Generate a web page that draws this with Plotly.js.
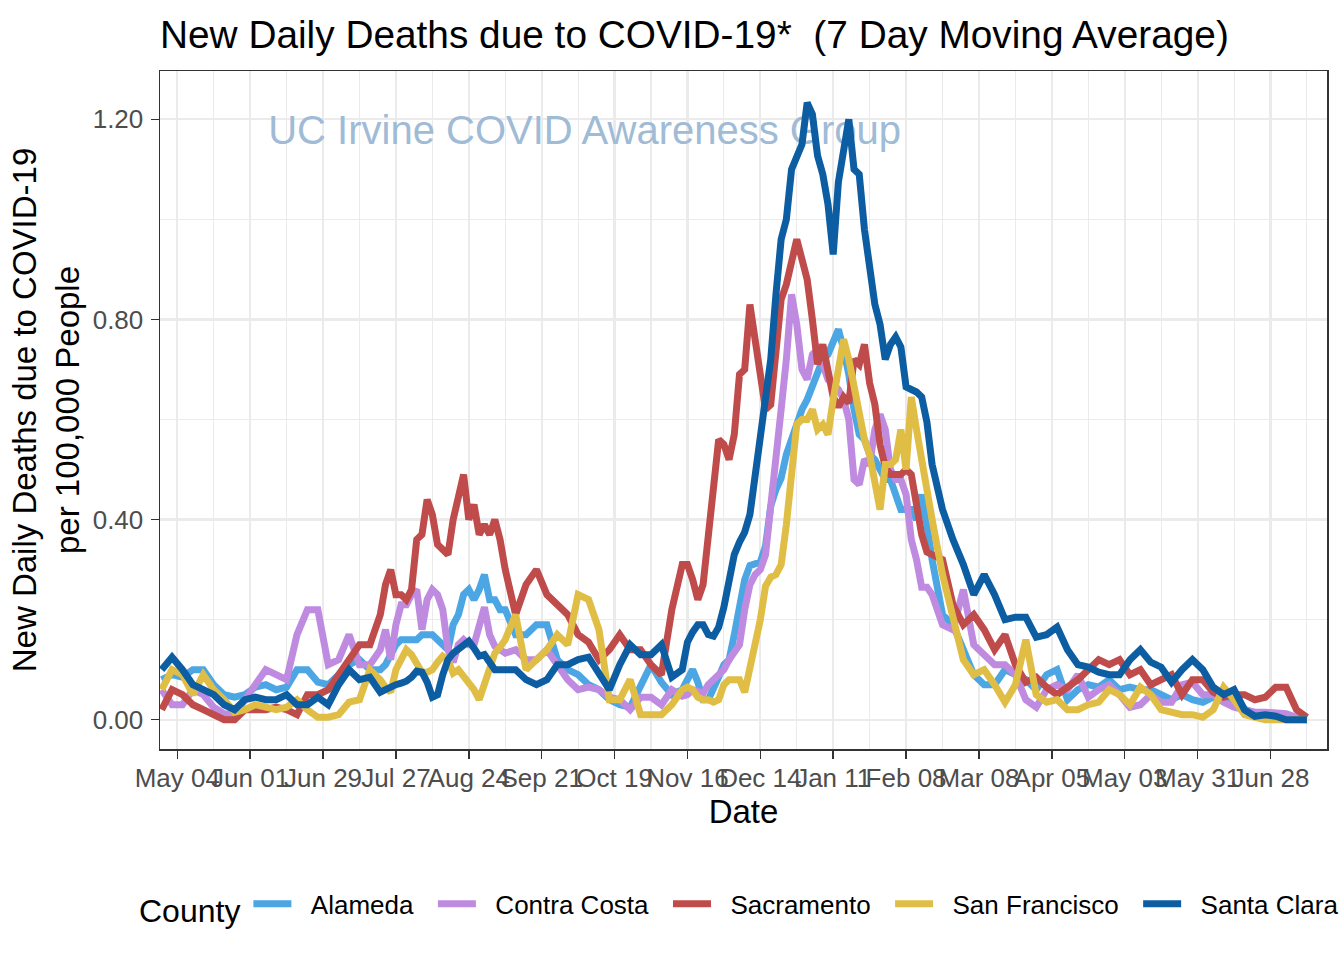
<!DOCTYPE html>
<html>
<head>
<meta charset="utf-8">
<script src="https://cdn.plot.ly/plotly-3.0.1.min.js"></script>
<style>
html, body { margin: 0; padding: 0; background: #ffffff; }
#chart { width: 1344px; height: 960px; }
</style>
</head>
<body>
<div id="chart"></div>
<script>
// ---- Sampling grid: [first date, last date, step in days] (denser where the curves move fast) ----
const gridSegments = [
  ['2020-04-28', '2020-07-21', 4],
  ['2020-07-23', '2020-09-07', 2],
  ['2020-09-11', '2020-11-14', 4],
  ['2020-11-16', '2021-02-18', 2],
  ['2021-02-22', '2021-07-12', 4]
];

const counties = ['Alameda', 'Contra Costa', 'Sacramento', 'San Francisco', 'Santa Clara'];
const countyColors = ['#4BA6E3', '#BF8BE0', '#BF4B4B', '#E0BE46', '#0C5DA2'];

// New daily deaths per 100,000 people (7-day moving average), one value per grid date
const alameda = [
  0.08, 0.09, 0.085, 0.10, 0.10, 0.07, 0.05, 0.045, 0.05, 0.065, 0.07, 0.06, 0.065, 0.10, 0.10, 0.075, 0.07, 0.09, 0.11, 0.12, 0.10, 0.10,
  0.11, 0.13, 0.15, 0.16, 0.16, 0.16, 0.16, 0.17, 0.17, 0.17, 0.16, 0.15, 0.14, 0.19, 0.21, 0.25, 0.26, 0.24, 0.26, 0.29, 0.24, 0.24, 0.22, 0.22,
  0.17, 0.17, 0.19, 0.19, 0.12, 0.10, 0.09, 0.07, 0.06, 0.04, 0.03, 0.025, 0.07, 0.11, 0.075, 0.05, 0.06,
  0.08, 0.10, 0.075, 0.04, 0.04, 0.06, 0.085, 0.11, 0.12, 0.17, 0.23, 0.28, 0.308, 0.31, 0.315, 0.347, 0.427, 0.46, 0.483, 0.53, 0.56, 0.60, 0.62, 0.64,
  0.67, 0.70, 0.72, 0.73, 0.76, 0.78, 0.74, 0.69, 0.62, 0.57, 0.56, 0.53, 0.52, 0.50, 0.48, 0.48, 0.45, 0.42, 0.42, 0.42, 0.40, 0.45, 0.39, 0.32,
  0.21, 0.19, 0.14, 0.09, 0.07, 0.07, 0.10, 0.09, 0.08, 0.06, 0.09, 0.10, 0.04, 0.06, 0.07, 0.065, 0.08, 0.06, 0.065, 0.06, 0.06, 0.05, 0.04, 0.05,
  0.04, 0.035, 0.045, 0.04, 0.03, 0.02, 0.012, 0.01, 0.008, 0.005, 0.003, 0.0
];

const contraCosta = [
  0.06, 0.03, 0.03, 0.06, 0.05, 0.025, 0.012, 0.01, 0.04, 0.07, 0.10, 0.09, 0.08, 0.17, 0.22, 0.22, 0.11, 0.12, 0.17, 0.11, 0.11, 0.14,
  0.18, 0.12, 0.19, 0.23, 0.23, 0.25, 0.26, 0.18, 0.24, 0.26, 0.25, 0.22, 0.14, 0.115, 0.15, 0.16, 0.15, 0.15, 0.185, 0.225, 0.17, 0.147, 0.14, 0.133,
  0.14, 0.12, 0.12, 0.14, 0.11, 0.08, 0.06, 0.065, 0.06, 0.045, 0.04, 0.02, 0.045, 0.045, 0.03, 0.06, 0.047,
  0.05, 0.06, 0.055, 0.053, 0.07, 0.08, 0.09, 0.10, 0.12, 0.137, 0.15, 0.22, 0.27, 0.29, 0.30, 0.33, 0.42, 0.50, 0.62, 0.72, 0.85, 0.79, 0.70, 0.68,
  0.73, 0.74, 0.71, 0.68, 0.67, 0.66, 0.64, 0.60, 0.48, 0.47, 0.52, 0.51, 0.58, 0.61, 0.58, 0.50, 0.48, 0.48, 0.45, 0.36, 0.32, 0.265, 0.265, 0.25,
  0.19, 0.18, 0.26, 0.15, 0.13, 0.11, 0.11, 0.09, 0.04, 0.025, 0.06, 0.07, 0.06, 0.09, 0.045, 0.06, 0.07, 0.05, 0.025, 0.03, 0.05, 0.035, 0.035, 0.07,
  0.075, 0.05, 0.05, 0.035, 0.025, 0.02, 0.015, 0.015, 0.015, 0.012, 0.005, 0.003
];

const sacramento = [
  0.02, 0.06, 0.05, 0.03, 0.02, 0.01, 0.0, 0.0, 0.02, 0.02, 0.02, 0.025, 0.02, 0.01, 0.05, 0.05, 0.06, 0.09, 0.12, 0.15, 0.15, 0.21,
  0.27, 0.30, 0.25, 0.25, 0.24, 0.26, 0.36, 0.37, 0.44, 0.41, 0.35, 0.34, 0.33, 0.40, 0.45, 0.49, 0.40, 0.43, 0.37, 0.39, 0.37, 0.40, 0.36, 0.30,
  0.21, 0.27, 0.30, 0.25, 0.23, 0.21, 0.17, 0.155, 0.12, 0.14, 0.17, 0.14, 0.14, 0.11, 0.09, 0.22, 0.31,
  0.31, 0.28, 0.24, 0.27, 0.37, 0.49, 0.56, 0.55, 0.52, 0.57, 0.69, 0.70, 0.83, 0.76, 0.70, 0.62, 0.63, 0.73, 0.84, 0.87, 0.92, 0.96, 0.92, 0.88,
  0.80, 0.71, 0.75, 0.69, 0.645, 0.625, 0.645, 0.633, 0.72, 0.71, 0.75, 0.673, 0.63, 0.55, 0.505, 0.49, 0.49, 0.49, 0.50, 0.49, 0.43, 0.37, 0.335, 0.33,
  0.32, 0.23, 0.19, 0.21, 0.18, 0.14, 0.17, 0.11, 0.075, 0.085, 0.065, 0.05, 0.065, 0.08, 0.10, 0.12, 0.11, 0.12, 0.09, 0.10, 0.07, 0.08, 0.09, 0.05,
  0.08, 0.08, 0.055, 0.045, 0.05, 0.05, 0.04, 0.045, 0.065, 0.065, 0.02, 0.005
];

const sanFrancisco = [
  0.06, 0.10, 0.09, 0.05, 0.09, 0.06, 0.04, 0.015, 0.02, 0.03, 0.025, 0.02, 0.025, 0.04, 0.02, 0.005, 0.005, 0.01, 0.035, 0.04, 0.10, 0.08,
  0.065, 0.055, 0.10, 0.12, 0.14, 0.13, 0.11, 0.095, 0.095, 0.10, 0.115, 0.127, 0.12, 0.093, 0.10, 0.088, 0.075, 0.06, 0.04, 0.075, 0.11, 0.133, 0.145, 0.16,
  0.21, 0.10, 0.12, 0.14, 0.17, 0.15, 0.25, 0.24, 0.18, 0.04, 0.04, 0.08, 0.01, 0.01, 0.01, 0.03, 0.06,
  0.065, 0.06, 0.045, 0.04, 0.04, 0.035, 0.04, 0.07, 0.08, 0.08, 0.08, 0.055, 0.10, 0.16, 0.20, 0.267, 0.285, 0.29, 0.31, 0.39, 0.50, 0.59, 0.60, 0.60,
  0.62, 0.58, 0.59, 0.57, 0.64, 0.70, 0.76, 0.72, 0.66, 0.60, 0.56, 0.53, 0.47, 0.42, 0.51, 0.51, 0.52, 0.58, 0.50, 0.645, 0.58, 0.52, 0.44, 0.40,
  0.29, 0.20, 0.12, 0.09, 0.10, 0.07, 0.035, 0.07, 0.16, 0.05, 0.035, 0.04, 0.02, 0.02, 0.03, 0.035, 0.06, 0.05, 0.03, 0.065, 0.05, 0.02, 0.015, 0.01,
  0.01, 0.005, 0.02, 0.065, 0.04, 0.01, 0.005, 0.0, 0.0, 0.0, 0.0, 0.0
];

const santaClara = [
  0.10, 0.125, 0.10, 0.07, 0.06, 0.05, 0.03, 0.02, 0.04, 0.045, 0.04, 0.04, 0.05, 0.03, 0.03, 0.045, 0.03, 0.07, 0.10, 0.08, 0.085, 0.055,
  0.06, 0.067, 0.07, 0.073, 0.077, 0.085, 0.097, 0.095, 0.075, 0.045, 0.05, 0.09, 0.12, 0.133, 0.14, 0.15, 0.157, 0.143, 0.127, 0.13, 0.115, 0.10, 0.10, 0.10,
  0.10, 0.08, 0.07, 0.08, 0.11, 0.11, 0.12, 0.125, 0.09, 0.06, 0.11, 0.15, 0.13, 0.13, 0.15, 0.085, 0.10,
  0.155, 0.175, 0.19, 0.19, 0.17, 0.167, 0.185, 0.225, 0.28, 0.33, 0.355, 0.375, 0.41, 0.485, 0.575, 0.64, 0.72, 0.85, 0.96, 1.00, 1.10, 1.125, 1.15, 1.233,
  1.21, 1.127, 1.09, 1.03, 0.93, 1.075, 1.14, 1.20, 1.10, 1.09, 0.98, 0.89, 0.83, 0.79, 0.72, 0.75, 0.765, 0.745, 0.665, 0.66, 0.655, 0.645, 0.595, 0.51,
  0.42, 0.36, 0.31, 0.25, 0.29, 0.25, 0.20, 0.205, 0.205, 0.165, 0.17, 0.185, 0.14, 0.11, 0.105, 0.095, 0.09, 0.09, 0.12, 0.14, 0.115, 0.105, 0.075, 0.10,
  0.12, 0.10, 0.065, 0.05, 0.06, 0.02, 0.007, 0.01, 0.007, 0.0, 0.0, 0.0
];

const seriesValues = [alameda, contraCosta, sacramento, sanFrancisco, santaClara];

const chartTitle = 'New Daily Deaths due to COVID-19*\u00A0 (7 Day Moving Average)';
const xTitle = 'Date';
const yTitle = 'New Daily Deaths due to COVID-19<br>per 100,000 People';
const legendTitle = 'County';
const watermarkText = 'UC Irvine COVID Awareness Group';

// ---- build the shared date grid ----
const DAY = 86400000;
const dates = [];
gridSegments.forEach(([a, b, step]) => {
  const t0 = Date.parse(a + 'T00:00:00Z');
  const t1 = Date.parse(b + 'T00:00:00Z');
  for (let t = t0; t <= t1; t += step * DAY) dates.push(new Date(t).toISOString().slice(0, 10));
});

const pad = '\u00A0\u00A0';
const traces = [];

// watermark first, so the lines are drawn over it
traces.push({
  type: 'scatter',
  mode: 'text',
  x: ['2020-10-07 12:00'],
  y: [1.170],
  text: [watermarkText],
  textposition: 'middle center',
  textfont: { family: 'Liberation Sans, Arial, sans-serif', size: 40, color: '#A0BBD6' },
  showlegend: false,
  hoverinfo: 'skip'
});

counties.forEach((c, i) => {
  const last = i === counties.length - 1;
  traces.push({
    type: 'scatter',
    mode: 'lines',
    name: pad + c + (last ? '' : pad),
    x: dates,
    y: seriesValues[i],
    line: { color: countyColors[i], width: 7, shape: 'linear' },
    hoverinfo: 'x+y+name'
  });
});

const layout = {
  width: 1344,
  height: 960,
  margin: { l: 160, r: 17, t: 71, b: 211, pad: 0 },
  paper_bgcolor: '#ffffff',
  plot_bgcolor: '#ffffff',
  font: { family: 'Liberation Sans, Arial, sans-serif', color: '#000000' },
  title: {
    text: chartTitle,
    font: { size: 38.8, color: '#000000' },
    x: 0, xref: 'paper', xanchor: 'left',
    y: 1 - 34 / 960, yref: 'container', yanchor: 'middle'
  },
  xaxis: {
    type: 'date',
    range: ['2020-04-27 08:50', '2021-07-19 17:00'],
    tick0: '2020-05-04',
    dtick: 28 * DAY,
    tickformat: '%b %d',
    tickangle: 0,
    ticks: 'outside',
    ticklen: 8,
    tickwidth: 1.5,
    tickcolor: '#333333',
    ticklabelstandoff: -3,
    tickfont: { size: 26, color: '#4D4D4D' },
    showgrid: true,
    gridcolor: '#EBEBEB',
    gridwidth: 2.2,
    minor: { tick0: '2020-05-04', dtick: 14 * DAY, showgrid: true, gridcolor: '#EBEBEB', gridwidth: 1.1 },
    showline: true,
    mirror: true,
    linecolor: '#333333',
    linewidth: 1.5,
    zeroline: false,
    fixedrange: true,
    title: { text: xTitle, font: { size: 33, color: '#000000' }, standoff: 5 }
  },
  yaxis: {
    range: [-0.0585, 1.2965],
    tick0: 0,
    dtick: 0.4,
    tickformat: '.2f',
    ticks: 'outside',
    ticklen: 8,
    tickwidth: 1.5,
    tickcolor: '#333333',
    ticklabelstandoff: 2,
    tickfont: { size: 26, color: '#4D4D4D' },
    showgrid: true,
    gridcolor: '#EBEBEB',
    gridwidth: 2.2,
    minor: { tick0: 0, dtick: 0.2, showgrid: true, gridcolor: '#EBEBEB', gridwidth: 1.1 },
    showline: true,
    mirror: true,
    linecolor: '#333333',
    linewidth: 1.5,
    zeroline: false,
    fixedrange: true,
    title: { text: yTitle, font: { size: 33, color: '#000000' }, standoff: 3 }
  },
  showlegend: true,
  legend: {
    orientation: 'h',
    x: -0.0077, xanchor: 'left',
    y: -0.232, yanchor: 'middle',
    itemwidth: 38,
    font: { size: 26, color: '#000000' },
    title: { text: legendTitle, side: 'left', font: { size: 32, color: '#000000' } },
    bgcolor: 'rgba(0,0,0,0)',
    borderwidth: 0,
    traceorder: 'normal'
  }
};

Plotly.newPlot('chart', traces, layout, { displayModeBar: false, staticPlot: true });
</script>
</body>
</html>
